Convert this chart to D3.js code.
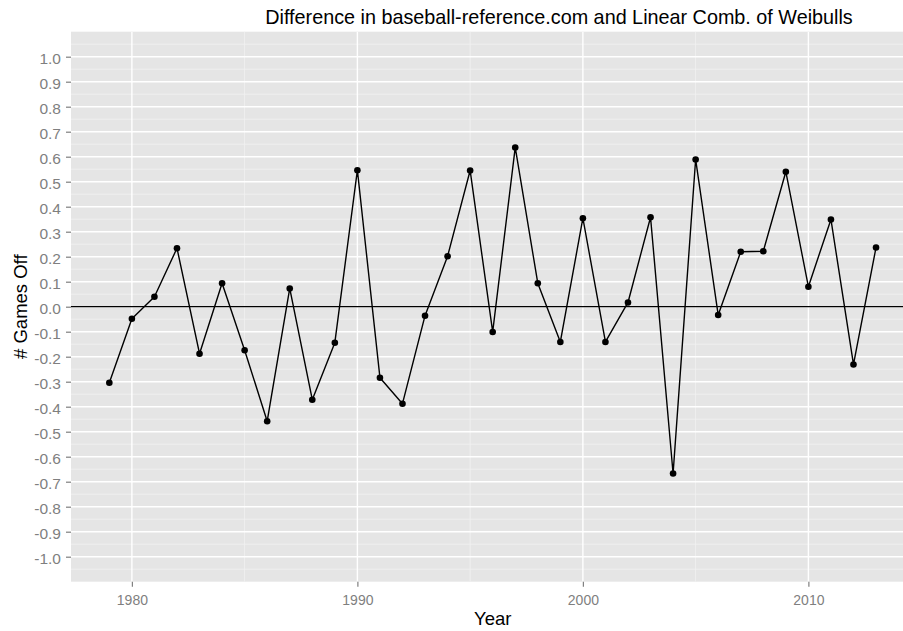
<!DOCTYPE html>
<html>
<head>
<meta charset="utf-8">
<script src="https://cdn.jsdelivr.net/npm/d3@7"></script>
<style>
  html, body { margin: 0; padding: 0; background: #ffffff; }
  svg { display: block; font-family: "Liberation Sans", Arial, Helvetica, sans-serif; }
</style>
</head>
<body>
<svg id="chart" width="903" height="631"></svg>
<script>
// ---- data ----
const years = [1979, 1980, 1981, 1982, 1983, 1984, 1985, 1986, 1987, 1988, 1989,
               1990, 1991, 1992, 1993, 1994, 1995, 1996, 1997, 1998, 1999,
               2000, 2001, 2002, 2003, 2004, 2005, 2006, 2007, 2008, 2009,
               2010, 2011, 2012, 2013];
const gamesOff = [-0.304, -0.048, 0.040, 0.234, -0.188, 0.094, -0.174, -0.458, 0.073, -0.372, -0.144,
                  0.546, -0.284, -0.388, -0.036, 0.202, 0.545, -0.101, 0.637, 0.094, -0.141,
                  0.354, -0.141, 0.017, 0.358, -0.667, 0.589, -0.033, 0.220, 0.222, 0.540,
                  0.080, 0.349, -0.231, 0.237];
const xTicks = [1980, 1990, 2000, 2010];
const xMinorTicks = [1975, 1985, 1995, 2005, 2015];
const yTicks = [1.0, 0.9, 0.8, 0.7, 0.6, 0.5, 0.4, 0.3, 0.2, 0.1, 0.0,
                -0.1, -0.2, -0.3, -0.4, -0.5, -0.6, -0.7, -0.8, -0.9, -1.0];
const titleText = "Difference in baseball-reference.com and Linear Comb. of Weibulls";
const xLabel = "Year";
const yLabel = "# Games Off";

// ---- layout ----
const W = 903, H = 631;
const panel = { left: 71, top: 31.7, bottom: 581.7 };
const pxPerYear = 22.55;
const xMin = 1979 - 0.05 * (2013 - 1979);
const xMax = 2013 + 0.05 * (2013 - 1979);
panel.right = panel.left + (xMax - xMin) * pxPerYear;

const x = d3.scaleLinear().domain([xMin, xMax]).range([panel.left, panel.right]);
const y = d3.scaleLinear().domain([-1.1, 1.1]).range([panel.bottom, panel.top]);

const svg = d3.select("#chart");

svg.append("defs").append("clipPath").attr("id", "clip")
  .append("rect")
  .attr("x", panel.left).attr("y", panel.top)
  .attr("width", Math.min(panel.right, W) - panel.left)
  .attr("height", panel.bottom - panel.top);

// panel background
svg.append("rect")
  .attr("x", panel.left).attr("y", panel.top)
  .attr("width", panel.right - panel.left)
  .attr("height", panel.bottom - panel.top)
  .attr("fill", "#e5e5e5");

const grid = svg.append("g").attr("clip-path", "url(#clip)");

// minor gridlines
const yMinor = yTicks.slice(0, -1).map((t, i) => (t + yTicks[i + 1]) / 2)
  .concat([1.05, -1.05]);
grid.selectAll("line.ymin").data(yMinor).enter().append("line")
  .attr("x1", panel.left).attr("x2", panel.right)
  .attr("y1", d => y(d)).attr("y2", d => y(d))
  .attr("stroke", "#f2f2f2").attr("stroke-width", 0.8);
grid.selectAll("line.xmin").data(xMinorTicks.filter(d => d > xMin && d < xMax)).enter().append("line")
  .attr("y1", panel.top).attr("y2", panel.bottom)
  .attr("x1", d => x(d)).attr("x2", d => x(d))
  .attr("stroke", "#f2f2f2").attr("stroke-width", 0.8);

// major gridlines
grid.selectAll("line.ymaj").data(yTicks).enter().append("line")
  .attr("x1", panel.left).attr("x2", panel.right)
  .attr("y1", d => y(d)).attr("y2", d => y(d))
  .attr("stroke", "#ffffff").attr("stroke-width", 1.4);
grid.selectAll("line.xmaj").data(xTicks).enter().append("line")
  .attr("y1", panel.top).attr("y2", panel.bottom)
  .attr("x1", d => x(d)).attr("x2", d => x(d))
  .attr("stroke", "#ffffff").attr("stroke-width", 1.4);

// axes
const yAxis = d3.axisLeft(y).tickValues(yTicks).tickSize(5).tickPadding(5)
  .tickFormat(d3.format(".1f"));
const gy = svg.append("g").attr("transform", `translate(${panel.left},0)`).call(yAxis);
gy.select(".domain").remove();
gy.selectAll(".tick line").attr("stroke", "#7f7f7f").attr("stroke-width", 1.2);
gy.selectAll(".tick text").attr("fill", "#7f7f7f").style("font-size", "15.5px")
  .attr("dy", "0.42em")
  .text(d => d3.format(".1f")(d).replace("−", "-"));

const xAxis = d3.axisBottom(x).tickValues(xTicks).tickSize(5).tickPadding(8)
  .tickFormat(d3.format("d"));
const gx = svg.append("g").attr("transform", `translate(0,${panel.bottom})`).call(xAxis);
gx.select(".domain").remove();
gx.selectAll(".tick line").attr("stroke", "#7f7f7f").attr("stroke-width", 1.2);
gx.selectAll(".tick text").attr("fill", "#7f7f7f").style("font-size", "14px");

// zero line
const plot = svg.append("g").attr("clip-path", "url(#clip)");
plot.append("line")
  .attr("x1", panel.left).attr("x2", panel.right)
  .attr("y1", y(0)).attr("y2", y(0))
  .attr("stroke", "#000000").attr("stroke-width", 1.3);

// data line and points
const pts = years.map((yr, i) => ({ year: yr, v: gamesOff[i] }));
plot.append("path").datum(pts)
  .attr("fill", "none").attr("stroke", "#000000").attr("stroke-width", 1.4)
  .attr("stroke-linejoin", "round")
  .attr("d", d3.line().x(d => x(d.year)).y(d => y(d.v)));
plot.selectAll("circle").data(pts).enter().append("circle")
  .attr("cx", d => x(d.year)).attr("cy", d => y(d.v)).attr("r", 3.3)
  .attr("fill", "#000000");

// titles
svg.append("text").attr("x", 559).attr("y", 24)
  .attr("text-anchor", "middle").style("font-size", "19.8px").attr("fill", "#000")
  .text(titleText);
svg.append("text").attr("x", (panel.left + panel.right) / 2).attr("y", 625)
  .attr("text-anchor", "middle").style("font-size", "18.5px").attr("fill", "#000")
  .text(xLabel);
svg.append("text")
  .attr("transform", `translate(27,${(panel.top + panel.bottom) / 2}) rotate(-90)`)
  .attr("text-anchor", "middle").style("font-size", "18.5px").attr("fill", "#000")
  .text(yLabel);
</script>
</body>
</html>
